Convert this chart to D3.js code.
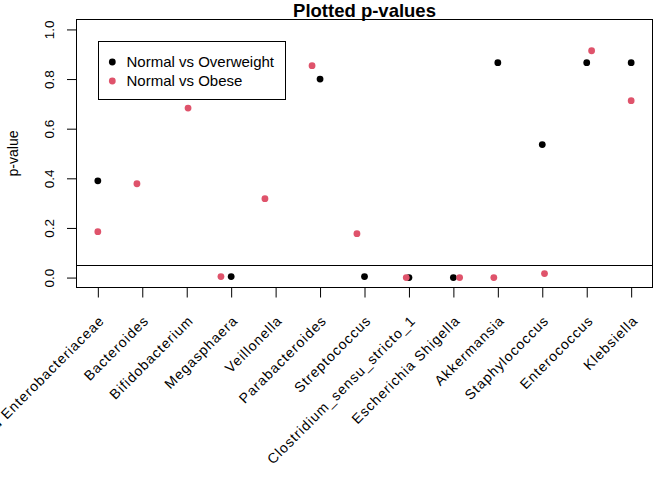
<!DOCTYPE html>
<html>
<head>
<meta charset="utf-8">
<script src="https://cdn.jsdelivr.net/npm/d3@7"></script>
<style>
  body { margin: 0; background: #fff; }
  text { font-family: "Liberation Sans", Arial, sans-serif; }
</style>
</head>
<body>
<div id="chart"></div>
<script>
// genera on the x axis
var genera = ['Unclassified Enterobacteriaceae', 'Bacteroides', 'Bifidobacterium', 'Megasphaera',
  'Veillonella', 'Parabacteroides', 'Streptococcus', 'Clostridium_sensu_stricto_1',
  'Escherichia Shigella', 'Akkermansia', 'Staphylococcus', 'Enterococcus', 'Klebsiella'];

// p-values, null = not plotted
var overweightP = [0.39, null, null, 0.004, null, 0.80, 0.004, 0.0, 0.0, 0.866, 0.536, 0.866, 0.866];
var obeseP = [0.185, 0.378, 0.683, 0.004, 0.318, 0.854, 0.177, 0.0, 0.0, 0.0, 0.016, 0.914, 0.713];
// obese points were jittered sideways in the original plot
var obeseX = [1.0, 1.88, 3.03, 3.77, 4.76, 5.82, 6.83, 7.94, 9.14, 9.91, 11.05, 12.11, 13.0];

var yTicks = [0, 0.2, 0.4, 0.6, 0.8, 1.0];
var cutoff = 0.05;
var legendLabels = ['Normal vs Overweight', 'Normal vs Obese'];
var colors = ['#000000', '#DF536B'];

var W = 672, H = 480;
var L = 76.5, R = 652.5, T = 19.5, B = 287.5;

var svg = d3.select('#chart').append('svg')
  .attr('width', W).attr('height', H);

svg.append('rect').attr('width', W).attr('height', H).attr('fill', '#fff');

var x = d3.scaleLinear().domain([0.52, 13.48]).range([L, R]);
var y = d3.scaleLinear().domain([-0.04, 1.04]).range([B, T]);

// title
svg.append('text')
  .attr('x', (L + R) / 2).attr('y', 17)
  .attr('text-anchor', 'middle')
  .style('font-weight', 'bold').style('font-size', '18.5px')
  .text('Plotted p-values');

// y axis
var yAxis = svg.append('g')
  .attr('transform', 'translate(' + L + ',0)')
  .call(d3.axisLeft(y).tickValues(yTicks).tickFormat(d3.format('.1f')).tickSize(9.5).tickPadding(0));
yAxis.select('.domain').remove();
yAxis.selectAll('line').attr('stroke', '#000');
yAxis.selectAll('text')
  .attr('x', null).attr('dy', null)
  .attr('text-anchor', 'middle')
  .attr('transform', 'translate(-23,0) rotate(-90)')
  .style('font-size', '13.5px').attr('fill', '#000');

// x axis ticks
var xAxis = svg.append('g')
  .attr('transform', 'translate(0,' + B + ')')
  .call(d3.axisBottom(x).tickValues(d3.range(1, genera.length + 1)).tickFormat('').tickSize(10));
xAxis.select('.domain').remove();
xAxis.selectAll('line').attr('stroke', '#000');

// rotated genus names
svg.append('g').selectAll('text')
  .data(genera)
  .enter()
  .append('text')
    .attr('transform', function(d, i) { return 'translate(' + (x(i + 1) + 4) + ',318) rotate(-45)'; })
    .attr('text-anchor', 'end')
    .attr('dy', '0.35em')
    .style('font-size', '14px')
    .style('letter-spacing', '1px')
    .text(function(d) { return d; });

// y label
svg.append('text')
  .attr('transform', 'translate(17.5,' + (T + B) / 2 + ') rotate(-90)')
  .attr('text-anchor', 'middle')
  .style('font-size', '14px')
  .text('p-value');

// cutoff line
svg.append('line')
  .attr('x1', L).attr('x2', R)
  .attr('y1', Math.round(y(cutoff)) + 0.5).attr('y2', Math.round(y(cutoff)) + 0.5)
  .attr('stroke', '#000');

// points
svg.append('g').selectAll('circle')
  .data(overweightP.map(function(p, i) { return {x: i + 1, p: p}; }).filter(function(d) { return d.p !== null; }))
  .enter()
  .append('circle')
    .attr('cx', function(d) { return x(d.x); })
    .attr('cy', function(d) { return y(d.p); })
    .attr('r', 3.4)
    .attr('fill', colors[0]);

svg.append('g').selectAll('circle')
  .data(obeseP.map(function(p, i) { return {x: obeseX[i], p: p}; }).filter(function(d) { return d.p !== null; }))
  .enter()
  .append('circle')
    .attr('cx', function(d) { return x(d.x); })
    .attr('cy', function(d) { return y(d.p); })
    .attr('r', 3.4)
    .attr('fill', colors[1]);

// plot box
svg.append('rect')
  .attr('x', L).attr('y', T)
  .attr('width', R - L).attr('height', B - T)
  .attr('fill', 'none').attr('stroke', '#000');

// legend
var lg = svg.append('g');
lg.append('rect')
  .attr('x', 98.5).attr('y', 41.5).attr('width', 187).attr('height', 58)
  .attr('fill', '#fff').attr('stroke', '#000');
var rows = lg.selectAll('g.row')
  .data(legendLabels)
  .enter()
  .append('g')
    .attr('class', 'row')
    .attr('transform', function(d, i) { return 'translate(0,' + (62 + i * 19) + ')'; });
rows.append('circle')
  .attr('cx', 112.3).attr('r', 3.4)
  .attr('fill', function(d, i) { return colors[i]; });
rows.append('text')
  .attr('x', 126.5).attr('dy', '0.35em')
  .style('font-size', '15px')
  .text(function(d) { return d; });
</script>
</body>
</html>
